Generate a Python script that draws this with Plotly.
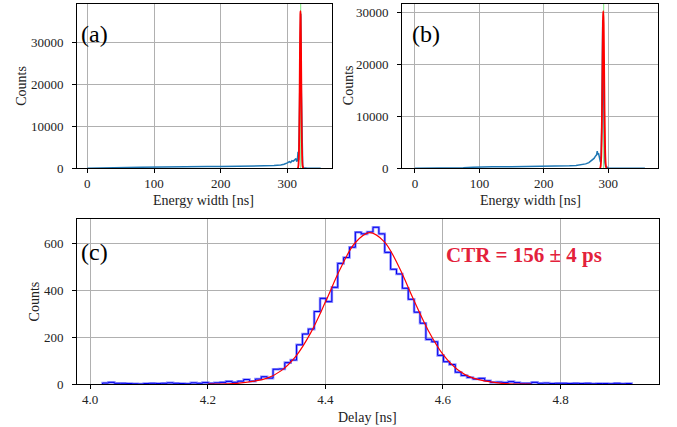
import plotly.graph_objects as go
import numpy as np

W, H = 677, 427
SERIF = "Liberation Serif"

# panel (a): energy width spectrum
energy_a_x = [0, 20, 40, 50, 60, 80, 100, 120, 150, 180, 200, 220, 240, 260, 270, 280, 290, 295,
              300, 303, 305, 307, 309, 311, 313, 314, 315, 316, 317, 318, 319, 320, 321, 322,
              323, 324, 326, 330, 340, 350]
counts_a = [0, 10, 30, 150, 200, 230, 300, 330, 380, 400, 420, 460, 480, 520, 560, 650, 800, 950,
            1300, 1600, 1400, 1800, 1700, 2100, 2300, 1600, 1900, 3900, 2000, 11000, 30000, 36800,
            18000, 4000, 600, 150, 60, 30, 10, 0]
fit_a_x = [315, 316, 317, 318, 318.5, 319, 319.5, 319.7, 320, 320.5, 321, 321.5, 322, 323, 324]
fit_a_y = [4, 130, 1840, 11330, 20630, 30550, 36790, 37400, 36030, 28710, 18600, 9800, 4200, 415, 18]
peak_a = 320

# panel (b)
energy_b_x = [0, 30, 60, 75, 90, 100, 120, 150, 180, 200, 220, 240, 250, 260, 265, 270, 275, 278,
              280, 282, 283, 284, 285, 286, 287, 288, 289, 290, 291, 291.5, 292, 293, 294, 295,
              296, 298, 300, 310, 330, 357]
counts_b = [0, 5, 20, 100, 200, 260, 300, 320, 340, 370, 420, 480, 560, 720, 850, 1100, 1500, 1900,
            2300, 2600, 3300, 2700, 2900, 2200, 1500, 1200, 2500, 8000, 22000, 28600, 25000, 14000,
            5000, 1200, 400, 150, 80, 30, 10, 0]
fit_b_x = [287, 288, 289, 290, 291, 291.5, 292, 292.4, 293, 293.5, 294, 295, 296, 297, 298]
fit_b_y = [18, 217, 1590, 6980, 18380, 24640, 29090, 30300, 27640, 22250, 15770, 5400, 1110, 137, 10]
peak_b = 293

# panel (c): delay histogram, 90 bins
delay_bin_start = 4.021
delay_bin_width = 0.01
delay_counts = [4, 7, 3, 3, 2, 1, 0, 2, 3, 2, 3, 5, 3, 2, 1, 5, 3, 6, 3, 5,
                7, 11, 7, 12, 19, 12, 21, 31, 25, 63, 64, 91, 102, 167, 213, 234, 309, 365, 351, 412,
                514, 539, 583, 647, 640, 648, 668, 640, 561, 489, 469, 408, 361, 306, 259, 190, 180, 122, 95, 83,
                50, 36, 28, 21, 24, 14, 7, 8, 6, 10, 6, 3, 3, 7, 3, 4, 2, 3, 3, 2,
                3, 2, 3, 1, 2, 2, 1, 3, 1, 2]
fit_c_x = [4.20, 4.25, 4.30, 4.325, 4.35, 4.375, 4.40, 4.425, 4.45, 4.475, 4.50, 4.525, 4.55,
           4.575, 4.60, 4.625, 4.65, 4.70, 4.75]
fit_c_y = [0, 3, 24, 57, 119, 218, 349, 489, 600, 645, 607, 500, 360, 228, 126, 61, 26, 3, 0]

edges = delay_bin_start + delay_bin_width * np.arange(len(delay_counts) + 1)
step_x = np.concatenate([[edges[0]], edges, [edges[-1]]])
step_y = np.concatenate([[0], delay_counts, [delay_counts[-1], 0]])

fig = go.Figure()

for xa, ya, ex, ey, fx, fy in [("x", "y", energy_a_x, counts_a, fit_a_x, fit_a_y),
                               ("x2", "y2", energy_b_x, counts_b, fit_b_x, fit_b_y)]:
    fig.add_trace(go.Scatter(x=ex, y=ey, mode="lines", xaxis=xa, yaxis=ya,
                             line=dict(color="#1f77b4", width=1.5)))
    fig.add_trace(go.Scatter(x=fx, y=fy, mode="lines", xaxis=xa, yaxis=ya,
                             line=dict(color="red", width=1.8, shape="spline")))

fig.add_trace(go.Scatter(x=step_x, y=step_y, mode="lines", xaxis="x3", yaxis="y3",
                         line=dict(color="rgba(70,70,255,0.6)", width=2.6, shape="hv")))
fig.add_trace(go.Scatter(x=step_x, y=step_y, mode="lines", xaxis="x3", yaxis="y3",
                         line=dict(color="#0000ee", width=1, shape="hv")))
fig.add_trace(go.Scatter(x=fit_c_x, y=fit_c_y, mode="lines", xaxis="x3", yaxis="y3",
                         line=dict(color="red", width=1.2, shape="spline")))

# green marker lines at the peak
for xr, yr, px in [("x", "y", peak_a), ("x2", "y2", peak_b)]:
    fig.add_shape(type="line", xref=xr, yref=yr + " domain", x0=px, x1=px, y0=0, y1=1,
                  line=dict(color="rgba(110,230,110,0.9)", width=1), layer="below")

axis_common = dict(showline=True, mirror=True, linecolor="black", linewidth=1,
                   ticks="outside", ticklen=3.5, tickcolor="black", tickwidth=1,
                   showgrid=True, gridcolor="#b0b0b0", gridwidth=1, zeroline=False,
                   automargin=False,
                   tickfont=dict(family=SERIF, size=13, color="#222"))

def px_x(p):
    return p / W

def px_y(p):
    return 1 - p / H

fig.update_layout(
    width=W, height=H, margin=dict(l=0, r=0, t=0, b=0),
    font=dict(family=SERIF, size=13, color="#222"),
    paper_bgcolor="white", plot_bgcolor="white", showlegend=False,
    xaxis=dict(domain=[px_x(76.7), px_x(331.7)], range=[-16, 366.5], dtick=100,
               anchor="y", ticklabelstandoff=0, **axis_common),
    yaxis=dict(domain=[px_y(168.3), px_y(4)], range=[0, 39100], dtick=10000,
               tickformat="d", anchor="x", ticklabelstandoff=6, **axis_common),
    xaxis2=dict(domain=[px_x(401.7), px_x(658.3)], range=[-20.6, 377.8], dtick=100,
                anchor="y2", ticklabelstandoff=0, **axis_common),
    yaxis2=dict(domain=[px_y(168.3), px_y(4)], range=[0, 31700], dtick=10000,
                tickformat="d", anchor="x2", ticklabelstandoff=6, **axis_common),
    xaxis3=dict(domain=[px_x(76.7), px_x(658.7)], range=[3.977, 4.967], dtick=0.2,
                tick0=4.0, tickformat=".1f", anchor="y3", ticklabelstandoff=0, **axis_common),
    yaxis3=dict(domain=[px_y(384), px_y(219.3)], range=[0, 702], dtick=200,
                tickformat="d", anchor="x3", ticklabelstandoff=6, **axis_common),
)

def label(text, x, y, size=14, angle=0, color="#222"):
    fig.add_annotation(text=text, xref="paper", yref="paper", x=px_x(x), y=px_y(y),
                       xanchor="center", yanchor="middle", showarrow=False, textangle=angle,
                       font=dict(family=SERIF, size=size, color=color))

label("Counts", 21.3, 85.5, angle=-90)
label("Counts", 348.7, 85.5, angle=-90)
label("Counts", 34.7, 301.7, angle=-90)
label("Energy width [ns]", 203.8, 200)
label("Energy width [ns]", 530.5, 200)
label("Delay [ns]", 367.7, 417)
label("(a)", 95, 34, size=24, color="black")
label("(b)", 426, 34, size=24, color="black")
label("(c)", 95, 252, size=24, color="black")

fig.add_annotation(text="<b>CTR = 156 ± 4 ps</b>", xref="x3", yref="y3", x=4.6026, y=550,
                   xanchor="left", yanchor="middle", showarrow=False,
                   font=dict(family=SERIF, size=21, color="#e3213b"))

# page body has a default margin; drop it so the figure sits at the corner
fig.write_html("out.html", config={"displayModeBar": False},
               post_script="document.body.style.margin='0';")
